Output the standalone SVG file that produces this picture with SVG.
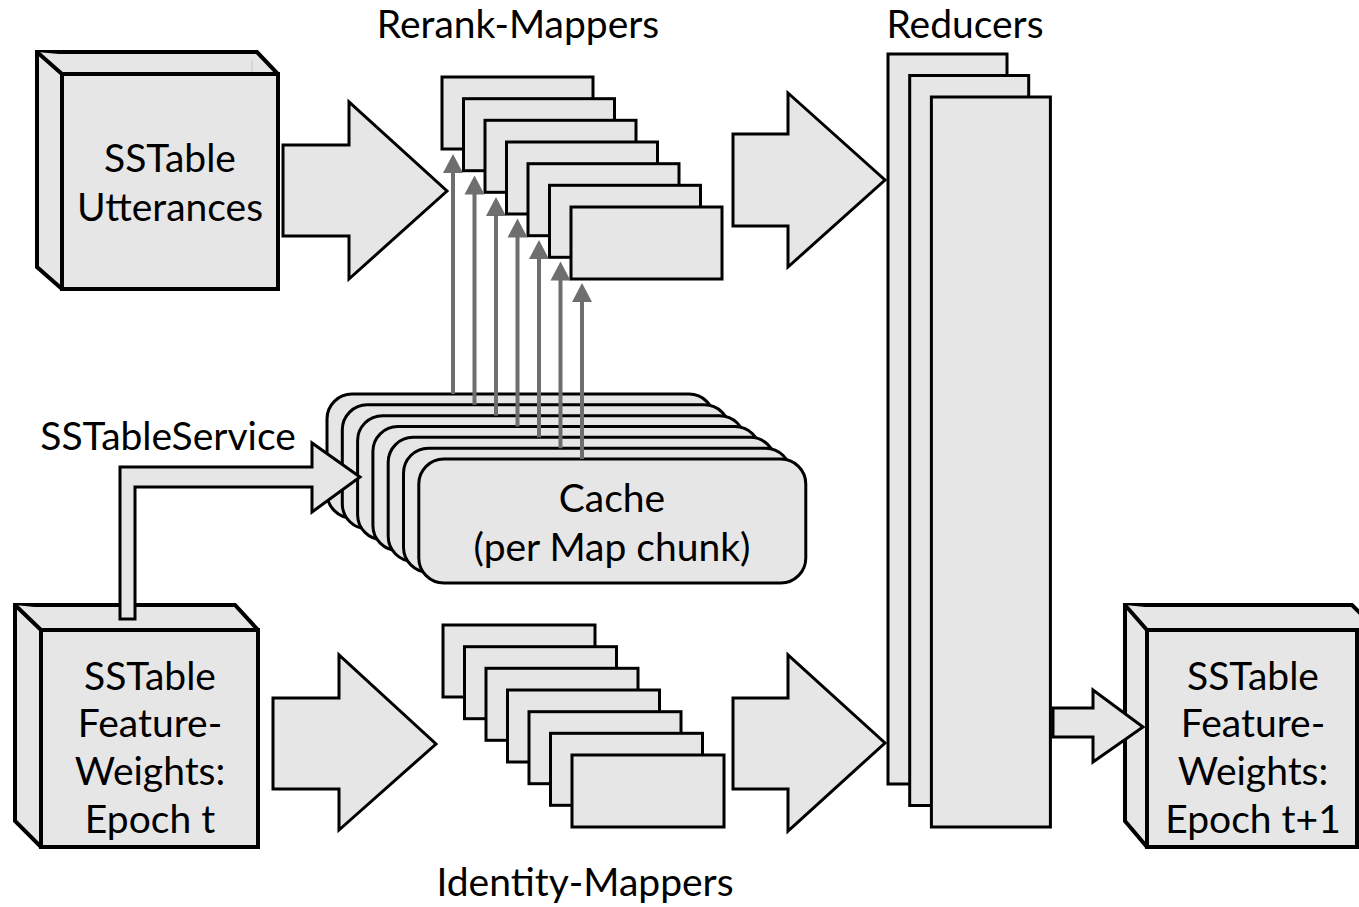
<svg xmlns="http://www.w3.org/2000/svg" width="1359" height="907" viewBox="0 0 1359 907">
<defs>
<style>
.f{fill:#e6e6e6;stroke:#000;stroke-width:3;stroke-linejoin:miter}
.b{fill:#e6e6e6;stroke:#000;stroke-width:4;stroke-linejoin:miter}
.t{font-family:Lato,"Open Sans",sans-serif;font-size:39px;fill:#000;text-anchor:middle}
.g{stroke:#6e6e6e;stroke-width:4;fill:none}
.gh{fill:#6e6e6e}
</style>
</defs>
<rect width="1359" height="907" fill="#fff"/>

<g id="rerank-mappers">
<rect class="f" x="442" y="77" width="151" height="72"/>
<rect class="f" x="463.5" y="98.7" width="151" height="72"/>
<rect class="f" x="485" y="120.3" width="151" height="72"/>
<rect class="f" x="506.5" y="142" width="151" height="72"/>
<rect class="f" x="528" y="163.7" width="151" height="72"/>
<rect class="f" x="549.5" y="185.3" width="151" height="72"/>
<rect class="f" x="571" y="207" width="151" height="72"/>
<text class="t" x="518" y="38">Rerank-Mappers</text>
</g>

<g id="identity-mappers">
<rect class="f" x="443" y="625" width="152" height="72"/>
<rect class="f" x="464.5" y="646.7" width="152" height="72"/>
<rect class="f" x="486" y="668.3" width="152" height="72"/>
<rect class="f" x="507.5" y="690" width="152" height="72"/>
<rect class="f" x="529" y="711.7" width="152" height="72"/>
<rect class="f" x="550.5" y="733.3" width="152" height="72"/>
<rect class="f" x="572" y="755" width="152" height="72"/>
<text class="t" x="585" y="896">Identity-Mappers</text>
</g>

<g id="reducers">
<rect class="f" x="888" y="54" width="119" height="730"/>
<rect class="f" x="909.7" y="75.5" width="119" height="730"/>
<rect class="f" x="931.4" y="97" width="119" height="730"/>
<text class="t" x="965" y="38">Reducers</text>
</g>

<g id="cache">
<rect class="f" x="327" y="394" width="387" height="124" rx="25"/>
<rect class="f" x="342.3" y="404.8" width="387" height="124" rx="25"/>
<rect class="f" x="357.6" y="415.7" width="387" height="124" rx="25"/>
<rect class="f" x="372.9" y="426.5" width="387" height="124" rx="25"/>
<rect class="f" x="388.2" y="437.3" width="387" height="124" rx="25"/>
<rect class="f" x="403.5" y="448.2" width="387" height="124" rx="25"/>
<rect class="f" x="418.8" y="459" width="387" height="124" rx="25"/>
<text class="t" x="612" y="512">Cache</text>
<text class="t" x="612" y="561">(per Map chunk)</text>
</g>

<g id="sstable-utterances">
<polygon class="b" points="37,52 257,52 278,74 278,289 62,289 37,267"/>
<polyline class="b" points="37,52 62,74 278,74" fill="none"/>
<rect class="b" x="62" y="74" width="216" height="215"/>
<line x1="252" y1="60" x2="252" y2="72" stroke="#c8c8c8" stroke-width="1"/>
<text class="t" x="170" y="172">SSTable</text>
<text class="t" x="170" y="221">Utterances</text>
</g>

<g id="sstable-epoch-t">
<polygon class="b" points="15,605 235,605 258,630 258,847 41,847 15,821"/>
<polyline class="b" points="15,605 41,630 258,630" fill="none"/>
<rect class="b" x="41" y="630" width="217" height="217"/>
<text class="t" x="150" y="690">SSTable</text>
<text class="t" x="150" y="737">Feature-</text>
<text class="t" x="150" y="785">Weights:</text>
<text class="t" x="150" y="833">Epoch t</text>
</g>

<g id="sstable-epoch-t1">
<polygon class="b" points="1125,605 1352,605 1377,630 1377,847 1147,847 1125,821"/>
<polyline class="b" points="1125,605 1147,630 1377,630" fill="none"/>
<rect class="b" x="1147" y="630" width="210" height="217"/>
<text class="t" x="1253" y="690">SSTable</text>
<text class="t" x="1253" y="737">Feature-</text>
<text class="t" x="1253" y="785">Weights:</text>
<text class="t" x="1253" y="833">Epoch t+1</text>
</g>

<g id="connectors">
<polygon class="f" points="283,145 349,145 349,102 447,191 349,279 349,236 283,236"/>
<polygon class="f" points="733,134 788,134 788,93 885,180 788,267 788,226 733,226"/>
<polygon class="f" points="273,698 339,698 339,655 436,744 339,830 339,789 273,789"/>
<polygon class="f" points="733,698 788,698 788,655 885,743 788,831 788,789 733,789"/>
<polygon class="f" points="1053,708 1093,708 1093,690 1143,727 1093,762 1093,737 1053,737"/>
<polygon class="f" points="120,619 120,467 312,467 312,443 360,477 312,512 312,487 135,487 135,619"/>
<g id="cache-arrows">
<line class="g" x1="453" y1="170" x2="453" y2="394"/>
<polygon class="gh" points="453,154 443,173 463,173"/>
<line class="g" x1="474.5" y1="191" x2="474.5" y2="404.8"/>
<polygon class="gh" points="474.5,175.5 464.5,194.5 484.5,194.5"/>
<line class="g" x1="496" y1="213" x2="496" y2="415.7"/>
<polygon class="gh" points="496,197 486,216 506,216"/>
<line class="g" x1="517.5" y1="234" x2="517.5" y2="426.5"/>
<polygon class="gh" points="517.5,218.5 507.5,237.5 527.5,237.5"/>
<line class="g" x1="539" y1="256" x2="539" y2="437.3"/>
<polygon class="gh" points="539,240 529,259 549,259"/>
<line class="g" x1="560.5" y1="277" x2="560.5" y2="448.2"/>
<polygon class="gh" points="560.5,261.5 550.5,280.5 570.5,280.5"/>
<line class="g" x1="582" y1="299" x2="582" y2="459"/>
<polygon class="gh" points="582,283 572,302 592,302"/>
</g>
</g>

<g id="label-sstableservice">
<text class="t" x="168" y="450">SSTableService</text>
</g>
</svg>
